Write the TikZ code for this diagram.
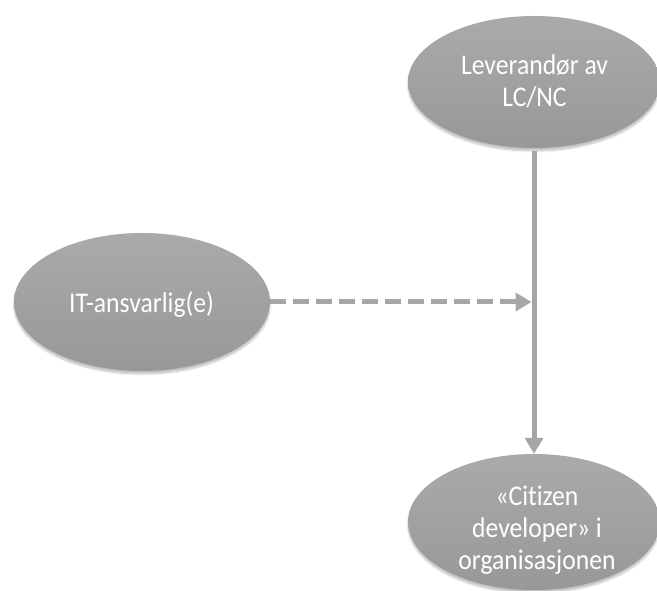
\documentclass[tikz,border=0pt]{standalone}
\usepackage{fontspec}
\setmainfont{Carlito}[Ligatures=NoCommon, FakeStretch=0.9]
\usetikzlibrary{shapes.geometric,arrows.meta,shadows.blur}
\definecolor{roletop}{HTML}{AAAAAA}
\definecolor{rolebottom}{HTML}{989898}
\definecolor{linkgray}{HTML}{A6A6A6}
\begin{document}
\begin{tikzpicture}[x=1pt,y=1pt,
  role/.style={ellipse, minimum width=252pt, minimum height=132pt, inner sep=0pt,
    top color=roletop, bottom color=rolebottom, draw=none,
    blur shadow={shadow xshift=0pt, shadow yshift=-3pt, shadow blur steps=6, shadow opacity=25}},
  roletext/.style={text=white, align=center, inner sep=0pt, anchor=base,
    font=\fontsize{28.5}{32}\selectfont},
  link/.style={line width=5pt, draw=linkgray, -{Triangle[width=18pt,length=16pt]}},
  dashlink/.style={link, dash pattern=on 16pt off 7pt}]
\useasboundingbox (0,0) rectangle (657,591);

% the three parties
\node[role] (vendor) at (534,509) {};
\node[role, minimum width=256pt, minimum height=138pt] (it) at (142,289) {};
\node[role, minimum height=136pt] (citizen) at (534,69) {};

% their names, placed by the baseline of the last line
\node[roletext] (vendortext) at (534.5,484) {Leverandør av\\LC/NC};
\node[roletext] (ittext) at (141.5,278) {IT-ansvarlig(e)};
\node[roletext] (citizentext) at (537,21) {«Citizen\\developer» i\\organisasjonen};

% supply line from vendor to citizen developers
\draw[link, shorten <=3pt] (vendor) -- (citizen);

% IT's dashed influence onto that line
\coordinate (join) at (vendor.south |- it.east);
\draw[dashlink, shorten >=2.5pt] (it.east) -- (join);
\end{tikzpicture}
\end{document}
